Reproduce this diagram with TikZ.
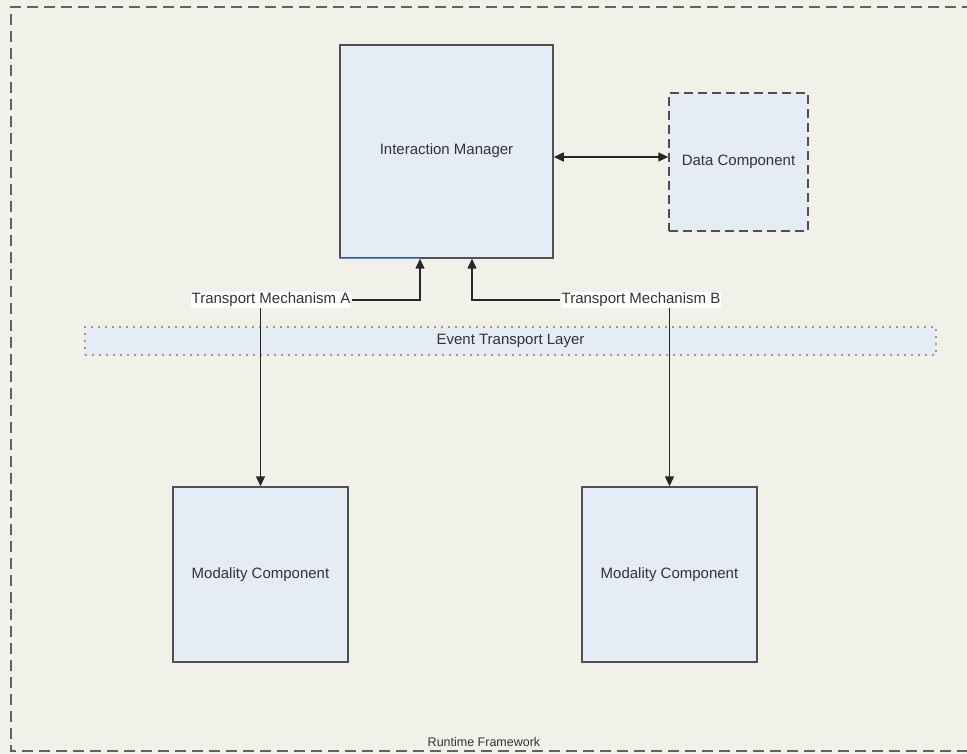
\documentclass[tikz,border=0pt]{standalone}
\usepackage{fontspec}
\setmainfont{Liberation Sans}
\usetikzlibrary{arrows.meta}
\definecolor{bg}{HTML}{F1F1EA}
\definecolor{boxfill}{HTML}{E6ECF6}
\definecolor{boxline}{HTML}{505050}
\definecolor{txt}{HTML}{333333}
\definecolor{edgeblue}{HTML}{6A8FD0}
\tikzset{
  txtfont/.style={font=\fontsize{15}{17}\selectfont},
  comp/.style={draw=boxline, line width=1.5pt, fill=boxfill, inner sep=0pt, text=txt, txtfont},
  lbl/.style={text=txt, txtfont, inner sep=1pt},
  conn/.style={draw=black!85, line width=1.5pt},
  arr/.style={conn, -{Triangle[length=10pt,width=9pt]}},
  darr/.style={conn, {Triangle[length=10pt,width=9pt]}-{Triangle[length=10pt,width=9pt]}},
}
\begin{document}
\begin{tikzpicture}[x=1pt,y=-1pt]
\useasboundingbox (0,0) rectangle (967,754);
\clip (0,0) rectangle (967,754);
\fill[bg] (0,0) rectangle (967,754);
% outer frame
\draw[boxline!90, line width=1.6pt, dash pattern=on 11pt off 6pt] (990,7) -- (11,7) -- (11,751) -- (990,751);
\node[lbl, font=\fontsize{12.5}{14}\selectfont] (rf) at (484,742) {Runtime Framework};
% event transport layer
\node[draw=gray!80, line width=1.6pt, dash pattern=on 1.6pt off 5.4pt, fill=boxfill, minimum width=851pt, minimum height=28pt, inner sep=0pt, text=txt, txtfont] (etl) at (510.5,341) {Event Transport Layer};
% components
\node[comp, minimum width=213pt, minimum height=213pt] (im) at (446.5,151.5) {};
\node[lbl] at (446.5,151) {Interaction Manager};
\draw[edgeblue, line width=1.5pt] (im.south west) -- ([xshift=-26.5pt]im.south);
\node[comp, dash pattern=on 9pt off 5pt, minimum width=139pt, minimum height=138pt] (dc) at (738.5,162) {Data Component};
\node[comp, minimum width=175pt, minimum height=175pt] (mc1) at (260.5,574.5) {Modality Component};
\node[comp, minimum width=175pt, minimum height=175pt] (mc2) at (669.5,574.5) {Modality Component};
% transport labels
\node[lbl, fill=white] (tma) at (271,300) {Transport Mechanism A};
\node[lbl, fill=white] (tmb) at (641,300) {Transport Mechanism B};
% connectors
\draw[darr] (im.east |- 0,157) -- (dc.west |- 0,157);
\draw[arr] (tma.east) -| ([xshift=-26.5pt]im.south);
\draw[arr] (tmb.west) -| ([xshift=25.5pt]im.south);
\draw[arr] (tma.south -| mc1.north) -- (mc1.north);
\draw[arr] (tmb.south -| mc2.north) -- (mc2.north);
\end{tikzpicture}
\end{document}
